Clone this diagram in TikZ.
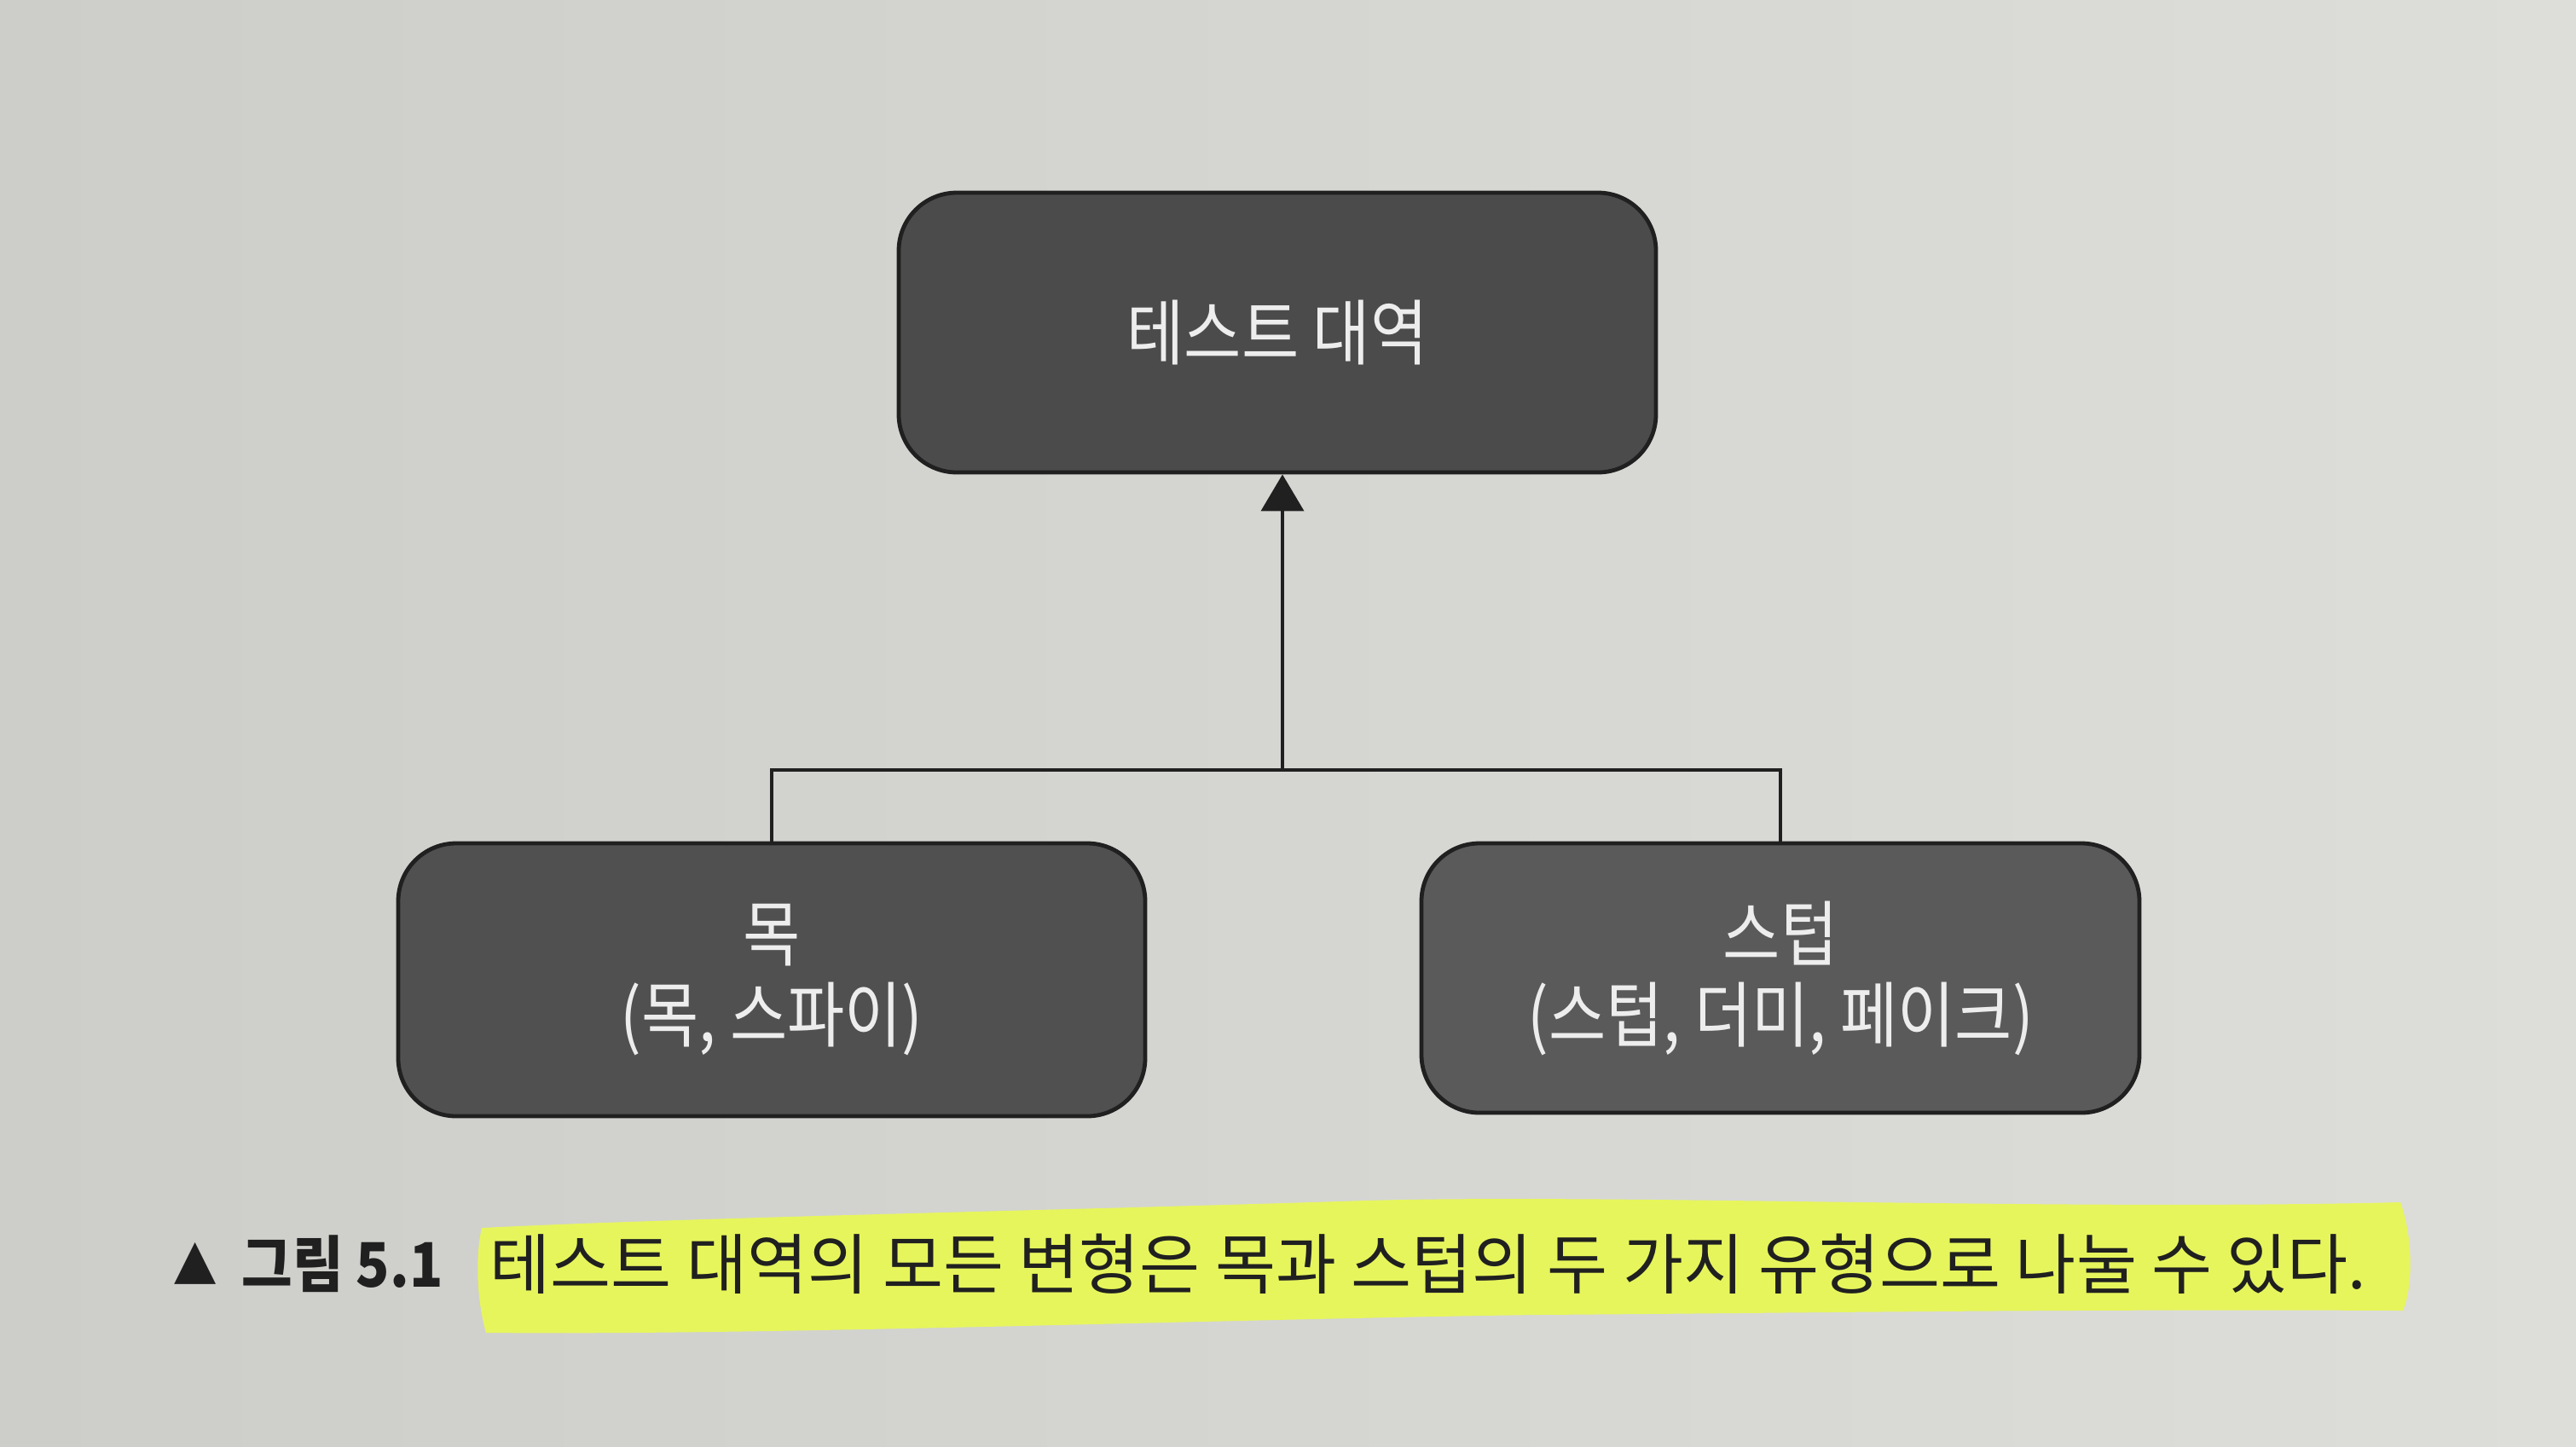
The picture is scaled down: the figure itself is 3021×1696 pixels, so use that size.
\documentclass[tikz,border=0pt]{standalone}
\usepackage{fontspec}
\newfontfamily\kr{Noto Sans CJK KR}
\newfontfamily\krn[FakeStretch=0.87]{Noto Sans CJK KR}
\newfontfamily\krc[FakeStretch=0.9]{Noto Sans CJK KR}
\newfontfamily\dv{DejaVu Sans}
\usetikzlibrary{arrows.meta}
\definecolor{paperL}{HTML}{CDCECA}
\definecolor{paperR}{HTML}{DDDEDA}
\definecolor{boxA}{HTML}{4B4B4B}
\definecolor{boxB}{HTML}{505050}
\definecolor{boxC}{HTML}{5A5A5A}
\definecolor{hilite}{HTML}{E6F55C}
\definecolor{ink}{HTML}{202020}
\definecolor{boxtext}{HTML}{EDEDED}
\begin{document}
\begin{tikzpicture}[x=0.25pt,y=-0.25pt,
  box/.style={draw=ink, line width=1.2pt, rounded corners=17pt, text=boxtext,
    align=center, inner sep=0pt, font=\krn\fontsize{21}{23.75}\selectfont},
  conn/.style={draw=ink, line width=1pt},
  captxt/.style={text=ink, inner sep=0pt, anchor=west}]
\shade[left color=paperL, right color=paperR] (0,0) rectangle (3021,1696);
\useasboundingbox (0,0) rectangle (3021,1696);
% highlighter stroke
\fill[hilite] (565,1440) .. controls (800,1428) and (1300,1418) .. (1600,1408)
  .. controls (1900,1400) and (2400,1420) .. (2815,1410)
  .. controls (2830,1450) and (2830,1510) .. (2818,1537)
  .. controls (2400,1535) and (2100,1540) .. (1800,1542)
  .. controls (1400,1548) and (900,1566) .. (570,1563)
  .. controls (558,1520) and (558,1470) .. (565,1440) -- cycle;
% nodes
\node[box, fill=boxA, minimum width=222pt, minimum height=82pt] (top) at (1498,390) {테스트 대역};
\node[box, fill=boxB, minimum width=219pt, minimum height=80pt] (mock) at (905,1149) {목\\(목, 스파이)};
\node[box, fill=boxC, minimum width=210.5pt, minimum height=79pt] (stub) at (2088,1147) {스텁\\(스텁, 더미, 페이크)};
% connectors
\coordinate (j) at (1504,903);
\draw[conn] (mock.north) |- (j) -| (stub.north);
\draw[conn, -{Triangle[width=12.5pt,length=10.75pt]}] (j) -- (j |- top.south);
% caption
\node[captxt, text=ink, font=\dv\fontsize{16}{16}\selectfont] (tri) at (204,1482) {▲};
\node[captxt, font=\krc\bfseries\fontsize{18}{18}\selectfont] (fig) at (283,1482) {그림 5.1};
\node[captxt, font=\kr\fontsize{19.3}{20}\selectfont] (cap) at (574,1482) {테스트 대역의 모든 변형은 목과 스텁의 두 가지 유형으로 나눌 수 있다.};
\end{tikzpicture}
\end{document}
